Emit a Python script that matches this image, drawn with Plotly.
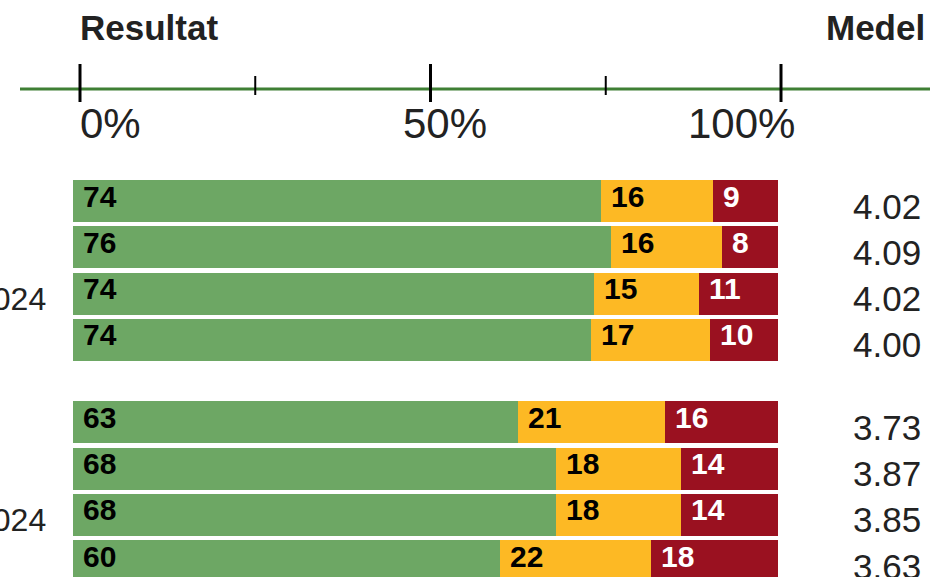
import plotly.graph_objects as go

# Data
rows = ["a1", "a2", "a3", "a4", "b1", "b2", "b3", "b4"]
group = [0, 0, 0, 0, 1, 1, 1, 1]
group_labels = ["2024", "2024"]
green_share = [74.9, 76.3, 73.9, 73.5, 63.1, 68.5, 68.5, 60.5]
yellow_share = [15.9, 15.8, 14.9, 16.8, 20.8, 17.7, 17.7, 21.5]
red_share = [9.2, 7.9, 11.2, 9.7, 16.1, 13.8, 13.8, 18.0]
green_lbl = [74, 76, 74, 74, 63, 68, 68, 60]
yellow_lbl = [16, 16, 15, 17, 21, 18, 18, 22]
red_lbl = [9, 8, 11, 10, 16, 14, 14, 18]
medel = ["4.02", "4.09", "4.02", "4.00", "3.73", "3.87", "3.85", "3.63"]
tick_vals = [0, 25, 50, 75, 100]
tick_major = [0, 50, 100]

GREEN = "#6da764"
YELLOW = "#fdb924"
RED = "#9a1120"
AXIS_GREEN = "#3f7f34"
TXT = "#222222"
FONT = "Arial, Liberation Sans, sans-serif"
W, H = 930, 577

# rader i grupp 2 ligger lite längre ner (mellanrum mellan grupperna)
GAP = 0.78
ypos = []
for i in range(len(rows)):
    ypos.append(i + group[i] * GAP)

fig = go.Figure()
for vals, col in [(green_share, GREEN), (yellow_share, YELLOW), (red_share, RED)]:
    fig.add_trace(go.Bar(
        y=ypos, x=vals, orientation="h", width=0.91,
        marker=dict(color=col, line=dict(width=0)),
        hoverinfo="skip", showlegend=False,
    ))

annotations = []
# etiketter inne i staplarna
for i in range(len(rows)):
    starts = [0, green_share[i], green_share[i] + yellow_share[i]]
    lbls = [green_lbl[i], yellow_lbl[i], red_lbl[i]]
    cols = ["black", "black", "white"]
    for s, l, c in zip(starts, lbls, cols):
        annotations.append(dict(
            x=s, y=ypos[i], xref="x", yref="y", text="<b>%d</b>" % l,
            xanchor="left", yanchor="middle", xshift=8, yshift=5,
            showarrow=False, font=dict(family=FONT, size=30, color=c)))
    # medelvärde till höger
    annotations.append(dict(
        x=923 / W, y=ypos[i], xref="paper", yref="y", text=medel[i],
        xanchor="right", yanchor="middle", yshift=-5,
        showarrow=False, font=dict(family=FONT, size=35, color=TXT)))

# gruppetiketter (avklippta till vänster)
for g, lab in enumerate(group_labels):
    idx = [i for i in range(len(rows)) if group[i] == g][2]
    annotations.append(dict(
        x=48 / W, y=ypos[idx], xref="paper", yref="y", text=lab,
        xanchor="right", yanchor="middle", yshift=-5,
        showarrow=False, font=dict(family=FONT, size=32, color=TXT)))

# rubriker
annotations.append(dict(x=78 / W, y=1 - 27 / H, xref="paper", yref="paper",
                        text="<b>Resultat</b>", xanchor="left", yanchor="middle",
                        showarrow=False, font=dict(family=FONT, size=35, color=TXT)))
annotations.append(dict(x=927 / W, y=1 - 27 / H, xref="paper", yref="paper",
                        text="<b>Medel</b>", xanchor="right", yanchor="middle",
                        showarrow=False, font=dict(family=FONT, size=35, color=TXT)))

# procentetiketter under axeln
pct_shift = {0: -2, 50: 14, 100: -40}
pct_anchor = {0: "left", 50: "center", 100: "center"}
for v in tick_major:
    annotations.append(dict(x=v, y=1 - 124 / H, xref="x2", yref="paper",
                            text="%d%%" % v, xanchor=pct_anchor[v], yanchor="middle",
                            xshift=pct_shift[v], showarrow=False,
                            font=dict(family=FONT, size=42, color=TXT)))

shapes = []
axis_y = 1 - 89 / H
shapes.append(dict(type="line", xref="paper", yref="paper", x0=20 / W, x1=1,
                   y0=axis_y, y1=axis_y, line=dict(color=AXIS_GREEN, width=3)))
for v in tick_vals:
    if v in tick_major:
        top, bot = 64, 102
        w = 3
    else:
        top, bot = 76, 95
        w = 2
    shapes.append(dict(type="line", xref="x2", yref="paper", x0=v, x1=v,
                       y0=1 - top / H, y1=1 - bot / H, line=dict(color="black", width=w)))

# hjälpspår så att x2 finns
fig.add_trace(go.Scatter(x=[0, 100], y=[ypos[0], ypos[0]], xaxis="x2", mode="markers",
                         marker=dict(opacity=0), hoverinfo="skip", showlegend=False))

axis = dict(showline=False, zeroline=False, showgrid=False, showticklabels=False, fixedrange=True)
fig.update_layout(
    width=W, height=H,
    barmode="stack",
    bargap=0,
    margin=dict(l=0, r=0, t=0, b=0),
    plot_bgcolor="white",
    paper_bgcolor="white",
    xaxis=dict(axis, range=[-73 / 7.05, (W - 73) / 7.05], domain=[0, 1]),
    xaxis2=dict(axis, range=[-80 / 7.01, (W - 80) / 7.01], overlaying="x", side="top"),
    yaxis=dict(axis, range=[(H - 201) / 46.3, -201 / 46.3]),
    annotations=annotations,
    shapes=shapes,
    showlegend=False,
)

# sidans marginal bort så att figuren fyller fönstret
fig.write_html("out.html", config={"displayModeBar": False},
               post_script="document.body.style.margin='0';document.body.style.overflow='hidden';")
